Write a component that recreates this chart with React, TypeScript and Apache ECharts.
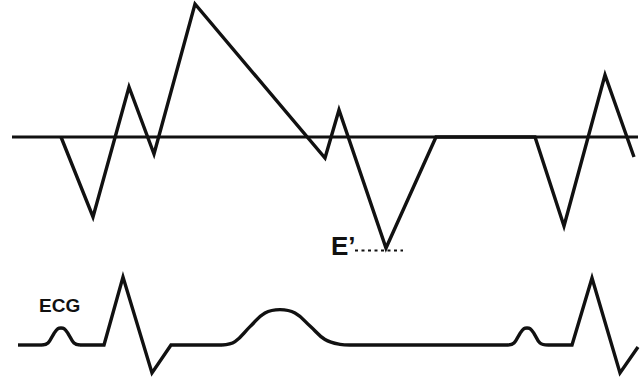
import React, { useEffect, useRef } from "react";
import * as echarts from "echarts";

// Tissue Doppler velocity (time in ms, velocity in cm/s)
const tdiTime = [122, 186, 258, 308, 390, 650, 678, 772, 872, 1070, 1128, 1210, 1268];
const tdiVel = [0, -8.0, 5.0, -1.7, 13.3, -2.1, 2.7, -11.1, 0, 0, -8.9, 6.2, -2.0];

// zero-velocity baseline
const baseTime = [24, 1276];
const baseVel = [0, 0];

// E' marker (dotted) level
const eMarkTime = [710, 806];
const eMarkVel = [-11.35, -11.35];

// ECG straight segments (mV)
const ecgSeg1Time = [36, 84];
const ecgSeg1Mv = [0, 0];
const ecgSeg2Time = [160, 208, 246, 304, 342, 444];
const ecgSeg2Mv = [0, 0, 1.0, -0.41, 0, 0];
const ecgSeg3Time = [700, 1016];
const ecgSeg3Mv = [0, 0];
const ecgSeg4Time = [1096, 1144, 1184, 1240, 1276];
const ecgSeg4Mv = [0, 0, 0.985, -0.41, -0.03];

// ECG smooth waves
const pWave1Time = [84, 96, 108, 116, 122, 128, 136, 148, 160];
const pWave1Mv = [0, 0.03, 0.17, 0.24, 0.25, 0.24, 0.17, 0.03, 0];
const tWaveTime = [444, 470, 500, 530, 560, 590, 620, 650, 680, 700];
const tWaveMv = [0, 0.05, 0.27, 0.47, 0.52, 0.47, 0.28, 0.08, 0.01, 0];
const pWave2Time = [1016, 1028, 1040, 1048, 1054, 1060, 1068, 1080, 1096];
const pWave2Mv = [0, 0.03, 0.17, 0.24, 0.25, 0.24, 0.17, 0.03, 0];

const labels = { ecg: "ECG", e: "E\u2019" };

const zip = (a: number[], b: number[]) => a.map((v, i) => [v, b[i]]);

export default function App() {
  const ref = useRef<HTMLDivElement>(null);
  useEffect(() => {
    if (!ref.current) return;
    const chart = echarts.init(ref.current, null, { renderer: "svg" });
    const black = "#111";
    const lineSeries = (data: number[][], idx: number, width: number, smooth: number | boolean = false, type: any = "solid") => ({
      type: "line",
      xAxisIndex: idx,
      yAxisIndex: idx,
      data,
      symbol: "none",
      smooth,
      silent: true,
      lineStyle: { color: black, width, type, cap: "butt", join: "miter" },
    });
    chart.setOption({
      animation: false,
      backgroundColor: "#fff",
      grid: [
        { left: 0, right: 0, top: 0, bottom: 0 },
        { left: 0, right: 0, top: 0, bottom: 0 },
      ],
      xAxis: [
        { type: "value", gridIndex: 0, min: 0, max: 1288, show: false },
        { type: "value", gridIndex: 1, min: 0, max: 1288, show: false },
      ],
      yAxis: [
        { type: "value", gridIndex: 0, min: -24.5, max: 13.7, show: false },
        { type: "value", gridIndex: 1, min: -0.5441, max: 5.0735, show: false },
      ],
      series: [
        lineSeries(zip(baseTime, baseVel), 0, 3),
        lineSeries(zip(tdiTime, tdiVel), 0, 3.4),
        lineSeries(zip(eMarkTime, eMarkVel), 0, 2, false, [3, 3.5]),
        lineSeries(zip(ecgSeg1Time, ecgSeg1Mv), 1, 3.4),
        lineSeries(zip(ecgSeg2Time, ecgSeg2Mv), 1, 3.4),
        lineSeries(zip(ecgSeg3Time, ecgSeg3Mv), 1, 3.4),
        lineSeries(zip(ecgSeg4Time, ecgSeg4Mv), 1, 3.4),
        lineSeries(zip(pWave1Time, pWave1Mv), 1, 3.4, 0.4),
        lineSeries(zip(tWaveTime, tWaveMv), 1, 3.4, 0.4),
        lineSeries(zip(pWave2Time, pWave2Mv), 1, 3.4, 0.4),
      ],
      graphic: [
        {
          type: "text",
          left: 39,
          top: 296,
          style: {
            text: labels.ecg,
            font: "bold 19px 'Liberation Sans', Arial, sans-serif",
            fill: black,
          },
        },
        {
          type: "text",
          left: 331,
          top: 233,
          style: {
            text: labels.e,
            font: "bold 26px 'Liberation Sans', Arial, sans-serif",
            fill: black,
          },
        },
      ],
    });
    return () => chart.dispose();
  }, []);
  return (
    <div
      ref={ref}
      style={{ position: "fixed", left: 0, top: 0, width: 644, height: 382, background: "#fff" }}
    />
  );
}
